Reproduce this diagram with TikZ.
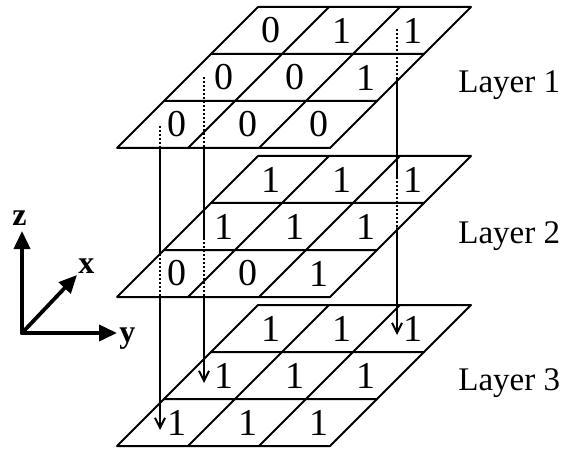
\documentclass[tikz,border=0pt]{standalone}
\usepackage{fontspec}
\setmainfont{Liberation Serif}
\usetikzlibrary{arrows.meta}
\tikzset{grid/.style={line width=1pt},
  hidden/.style={line width=1pt,line cap=butt,dash pattern=on 1pt off 1pt},
  axis/.style={line width=1.9pt,-{Triangle[length=9pt,width=8pt]}},
  digit/.style={font=\fontsize{19}{22}\selectfont,inner sep=0pt},
  lbl/.style={font=\fontsize{16.5}{19}\selectfont,inner sep=0pt,anchor=base west},
  axlbl/.style={font=\fontsize{16}{18}\selectfont\bfseries,inner sep=0pt,anchor=base west}}
\begin{document}
\begin{tikzpicture}[x=0.5pt,y=-0.5pt,line join=round,line cap=round,>={Straight Barb[length=5pt,width=5pt]}]
\useasboundingbox (0,0) rectangle (565,448);
% the three layers, cells listed front row first
\foreach \L/\b/\vals in {1/148/{0,0,0,0,0,1,0,1,1},2/297/{0,0,1,1,1,1,1,1,1},3/446/{1,1,1,1,1,1,1,1,1}}{
\begin{scope}[shift={(117,\b)}]
\foreach \i in {0,...,3} \draw[grid] (\i*47,-\i*47) -- ++(213,0) (\i*71,0) -- ++(141,-141);
\foreach \v [count=\k from 0] in \vals {
  \pgfmathtruncatemacro\r{\k/3}
  \pgfmathtruncatemacro\c{\k-3*\r}
  \node[digit] (v\L\k) at ({\c*71+36+(\r+0.5)*47},{-(\r+0.5)*47}) {\v};}
\end{scope}}
\node[lbl] (l1) at (458,93) {Layer 1};
\node[lbl] (l2) at (458,243) {Layer 2};
\node[lbl] (l3) at (458,390) {Layer 3};
% links between layers: dotted inside a layer, solid outside
\foreach \n/\x/\ya/\yb/\yc/\yd/\ye in {A/160/126/148/254/297/430,B/204/77/148/238/297/383,C/397/29/79/177/228/335}{
\path (\x,\ya) coordinate (\n0) (\x,\yb) coordinate (\n1) (\x,\yc) coordinate (\n2) (\x,\yd) coordinate (\n3) (\x,\ye) coordinate (\n4);
\draw[hidden] (\n0)--(\n1) (\n2)--(\n3);
\draw[grid] (\n1)--(\n2);
\draw[grid,->] (\n3)--(\n4);}
% axes
\coordinate (o) at (22,333);
\coordinate (ez) at (22,231);
\coordinate (ex) at (77,275);
\coordinate (ey) at (117,333);
\draw[axis] (o)--(ez);
\draw[axis] (o)--(ex);
\draw[axis] (o)--(ey);
\node[axlbl] (z) at (12,225) {z};
\node[axlbl] (x) at (78,273) {x};
\node[axlbl] (y) at (119,342) {y};
\end{tikzpicture}
\end{document}
